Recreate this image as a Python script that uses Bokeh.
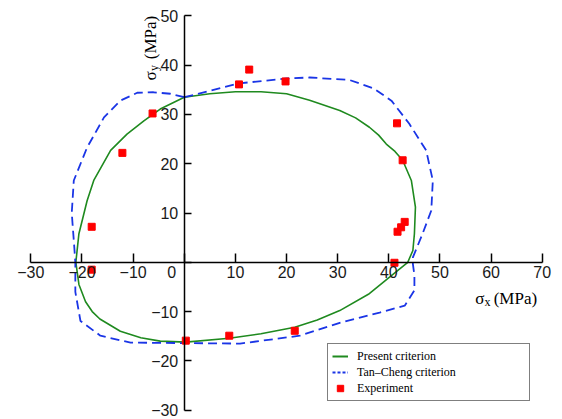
from bokeh.plotting import figure
from bokeh.models import (FixedTicker, Legend, LegendItem, Label, ColumnDataSource)
from bokeh.embed import file_html
from bokeh.resources import INLINE
import math

# ---- data ----
present_x = [0, -4.7, -7.9, -11.2, -14.4, -17.7, -19.0, -20.6, -21.2, -20.6, -19.3, -18.0,
             -16.5, -12.5, -8.5, -4.7, 0.3, 8.8, 15.0, 21.6, 26.0, 30.4, 36.0, 40.5, 43.7,
             44.7, 45.0, 45.2, 44.4, 42.7, 41.2, 39.5, 38.0, 36.2, 33.5, 30.4, 24.5, 20.0,
             15.0, 10.0, 5.0, 0]
present_y = [33.5, 31.1, 28.7, 26.0, 22.7, 16.6, 12.5, 5.8, 0.0, -4.5, -8.0, -10.0,
             -11.5, -14.0, -15.3, -16.0, -16.2, -15.4, -14.5, -13.2, -11.7, -9.8, -6.5, -2.7, 0.0,
             2.4, 5.8, 11.2, 16.6, 20.7, 22.5, 24.0, 25.8, 27.4, 29.3, 30.8, 32.9, 34.2,
             34.6, 34.6, 34.2, 33.5]

tancheng_x = [0, -2.7, -6.0, -9.2, -12.5, -15.7, -19.0, -21.6, -22.0, -21.5, -21.3, -21.3,
              -20.3, -16.4, -10.5, 0.0, 10.9, 22.6, 30.4, 38.2, 43.1, 45.0, 45.0, 44.7,
              44.7, 46.6, 48.3, 48.6, 47.3, 44.0, 40.5, 37.0, 32.3, 24.5, 20.0, 10.7, 5.1, 0]
tancheng_y = [33.5, 34.2, 34.5, 34.4, 32.8, 29.4, 23.3, 16.6, 10.0, 3.0, 0.0, -6.0,
              -11.9, -14.9, -16.3, -16.4, -16.5, -14.9, -12.3, -10.2, -8.8, -5.7, -2.7, -0.3,
              1.0, 5.8, 10.5, 16.6, 22.7, 28.1, 32.8, 35.3, 37.0, 37.5, 37.3, 36.3, 34.8, 33.5]

exp_x = [-12.1, -6.2, 10.7, 12.7, 19.8, 41.6, 42.7, 43.1, 42.4, 41.7, 41.1,
         -18.1, -18.1, 0.3, 8.8, 21.6]
exp_y = [22.2, 30.2, 36.1, 39.1, 36.7, 28.2, 20.7, 8.2, 7.1, 6.2, -0.1,
         7.2, -1.5, -15.9, -14.9, -13.9]

x_ticks = [-30, -20, -10, 0, 10, 20, 30, 40, 50, 60, 70]
y_ticks = [-30, -20, -10, 0, 10, 20, 30, 40, 50]

GREEN = "#1f8a1f"
BLUE = "#1a35e6"
RED = "#ff0000"

p = figure(width=562, height=419, x_range=(-33, 72), y_range=(-31.7, 51.5),
           output_backend="svg", toolbar_location=None,
           min_border_left=15, min_border_right=10, min_border_top=8, min_border_bottom=1)
p.outline_line_color = None
p.xgrid.visible = False
p.ygrid.visible = False
p.background_fill_color = "white"
p.border_fill_color = "white"

# axes through the origin
for ax in (p.xaxis[0], p.yaxis[0]):
    ax.fixed_location = 0
    ax.axis_line_color = "black"
    ax.axis_line_width = 1.5
    ax.major_tick_line_color = "black"
    ax.major_tick_line_width = 1.5
    ax.major_tick_out = 0
    ax.minor_tick_line_color = None
    ax.major_label_text_font = "Liberation Sans"
    ax.major_label_text_font_size = "16px"
    ax.major_label_text_color = "#1a1a1a"

p.xaxis.bounds = (-30, 70)
p.yaxis.bounds = (-30, 50)
p.xaxis.ticker = FixedTicker(ticks=x_ticks)
p.yaxis.ticker = FixedTicker(ticks=y_ticks)
p.xaxis.major_tick_in = 9
p.yaxis.major_tick_in = 7
p.xaxis.major_label_standoff = 4
p.yaxis.major_label_standoff = 6

def fmt(v):
    return ("\u2212" + str(abs(v))) if v < 0 else str(v)

p.xaxis.major_label_overrides = {t: ("" if t == 0 else fmt(t)) for t in x_ticks}
p.yaxis.major_label_overrides = {t: ("" if t == 0 else fmt(t)) for t in y_ticks}

p.add_layout(Label(x=0, y=0, text="0", text_align="right", text_baseline="top",
                   x_offset=-8, y_offset=-4, text_font="Liberation Sans",
                   text_font_size="16px", text_color="#1a1a1a"))

# curves
p.line(present_x, present_y, line_color=GREEN, line_width=1.6)
p.line(tancheng_x, tancheng_y, line_color=BLUE, line_width=1.8, line_dash="9 5")
p.scatter(exp_x, exp_y, marker="square", size=7, fill_color=RED, line_color=RED)

# legend proxies (not drawn in the plot area)
nan = float("nan")
empty = dict(x=[nan], y=[nan])
r1 = p.line(x="x", y="y", source=ColumnDataSource(empty), line_color=GREEN, line_width=2)
r2 = p.line(x="x", y="y", source=ColumnDataSource(empty), line_color=BLUE, line_width=2, line_dash="3 2")
r3 = p.scatter(x="x", y="y", source=ColumnDataSource(empty), marker="square", size=5,
               fill_color=RED, line_color=RED)

legend = Legend(items=[LegendItem(label="Present criterion", renderers=[r1]),
                       LegendItem(label="Tan\u2013Cheng criterion", renderers=[r2]),
                       LegendItem(label="Experiment", renderers=[r3])],
                location=(312, 17), padding=4, spacing=0,
                glyph_width=16, glyph_height=16, label_height=16, label_width=168,
                label_standoff=9, label_text_font="Liberation Serif",
                label_text_font_size="12px", label_text_color="black",
                label_text_baseline="middle",
                border_line_color="black", border_line_width=1.5,
                background_fill_color="white", background_fill_alpha=1.0)
p.add_layout(legend)

# axis titles
serif = "Liberation Serif"
p.add_layout(Label(x=56.9, y=-7.4, text="\u03c3", text_font=serif, text_font_size="17px",
                   text_baseline="middle", text_align="left", text_color="black"))
p.add_layout(Label(x=58.7, y=-8.1, text="x", text_font=serif, text_font_size="12px",
                   text_baseline="middle", text_align="left", text_color="black"))
p.add_layout(Label(x=60.5, y=-7.4, text="(MPa)", text_font=serif, text_font_size="17px",
                   text_baseline="middle", text_align="left", text_color="black"))

p.add_layout(Label(x=-6.6, y=36.9, text="\u03c3", text_font=serif, text_font_size="17px",
                   text_baseline="middle", text_align="left", angle=math.pi / 2,
                   text_color="black"))
p.add_layout(Label(x=-6.0, y=38.8, text="y", text_font=serif, text_font_size="12px",
                   text_baseline="middle", text_align="left", angle=math.pi / 2,
                   text_color="black"))
p.add_layout(Label(x=-6.6, y=41.2, text="(MPa)", text_font=serif, text_font_size="17px",
                   text_baseline="middle", text_align="left", angle=math.pi / 2,
                   text_color="black"))

open("out.html", "w").write(file_html(p, INLINE))
